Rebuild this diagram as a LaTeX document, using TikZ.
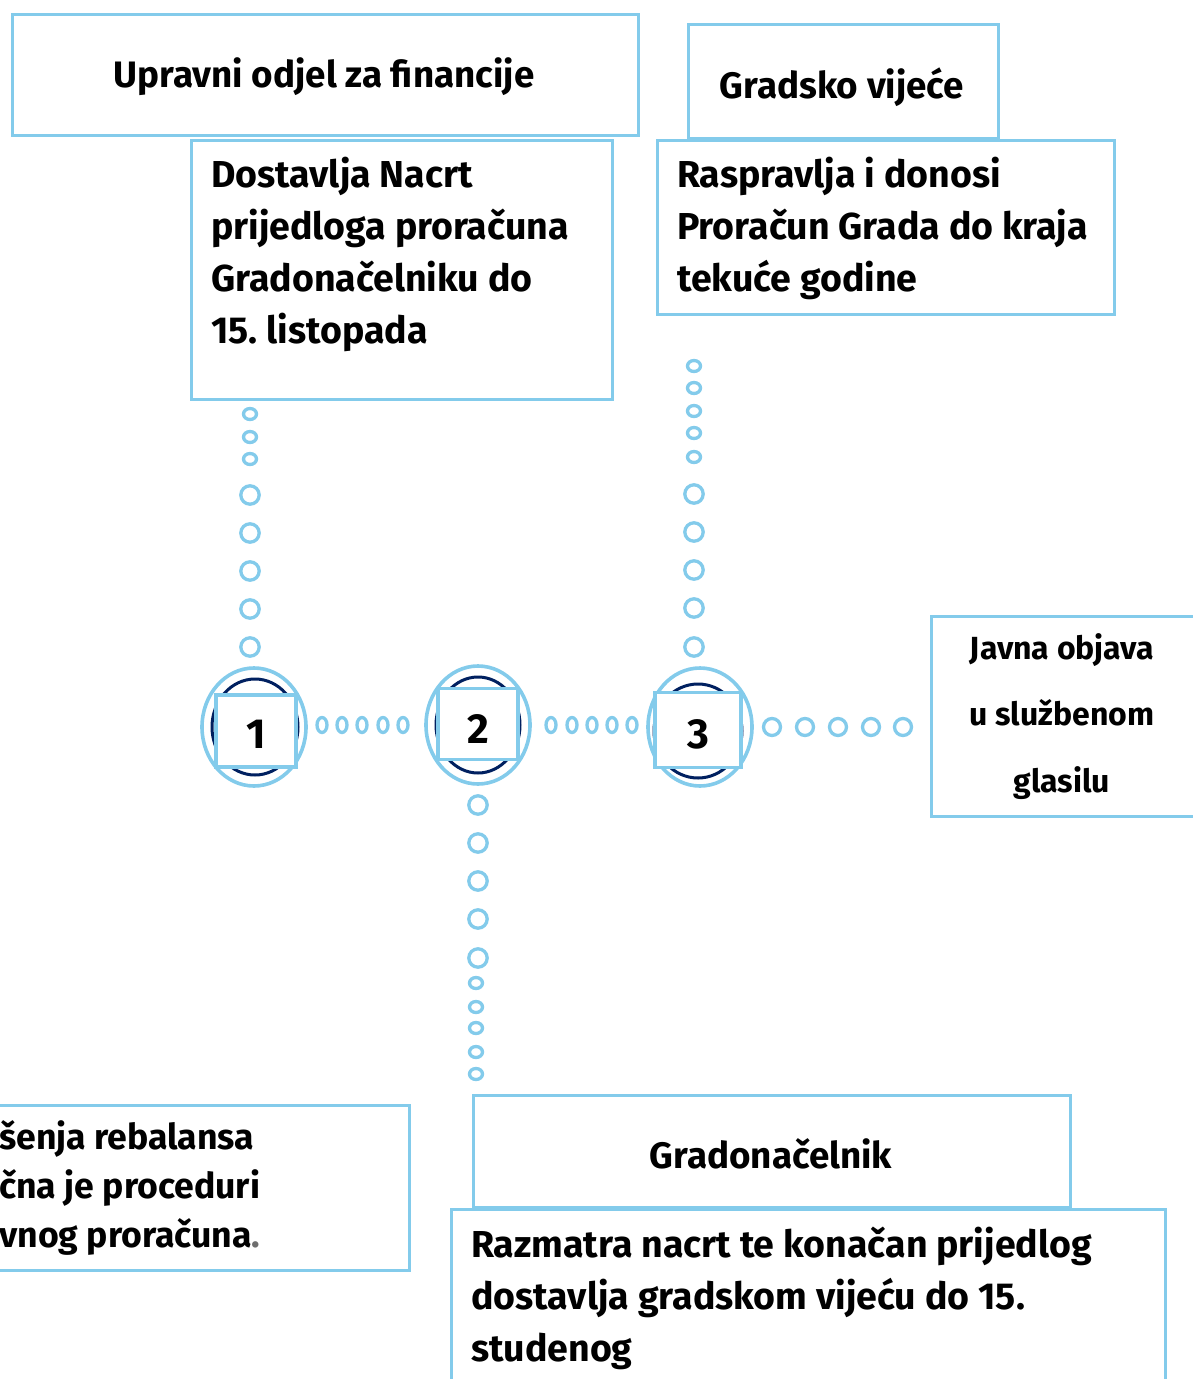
\documentclass[tikz,border=0pt]{standalone}
\usepackage{fontspec}
\setmainfont{Fira Sans}
\usetikzlibrary{calc}
\definecolor{sky}{RGB}{131,203,235}
\definecolor{navy}{RGB}{0,32,96}
\definecolor{dotgray}{RGB}{110,110,110}
\tikzset{
  box/.style={draw=sky,line width=3pt,fill=white,rectangle,inner sep=0pt,anchor=north west},
  txt/.style={inner sep=0pt,font=\fontsize{37.5}{52}\selectfont\bfseries,align=left,anchor=base west},
  ctxt/.style={inner sep=0pt,font=\fontsize{36.8}{52}\selectfont\bfseries,anchor=base},
  ring/.style={draw=sky,line width=3.3pt,fill=white},
  outerell/.style={draw=sky,line width=3.6pt,fill=white},
  innerell/.style={draw=navy,line width=3pt},
  numbox/.style={draw=sky,line width=3.4pt,fill=white,rectangle,inner sep=0pt,font=\fontsize{42}{50}\selectfont\bfseries}
}
\frenchspacing
\begin{document}
\begin{tikzpicture}[x=1pt,y=-1pt]
\useasboundingbox (0,0) rectangle (1192,1379);
% boxes
\node[box,minimum width=626pt,minimum height=121pt] (b1) at (11,13) {};
\node[box,minimum width=421pt,minimum height=259pt] (b2) at (190,139) {};
\node[box,minimum width=310pt,minimum height=114pt] (b3) at (687,23) {};
\node[box,minimum width=457pt,minimum height=174pt] (b4) at (656,139) {};
\node[box,minimum width=280pt,minimum height=200pt] (b5) at (930,615) {};
\node[box,minimum width=420pt,minimum height=165pt] (b6) at (-12,1104) {};
\node[box,minimum width=597pt,minimum height=112pt] (b7) at (472,1094) {};
\node[box,minimum width=714pt,minimum height=190pt] (b8) at (450,1208) {};
% texts (base anchor = baseline of last line)
\node[ctxt] (t1) at (324,87) {Upravni odjel za financije};
\node[txt] (t2) at (211,343) {Dostavlja Nacrt\\prijedloga proračuna\\Gradonačelniku do\\15. listopada};
\node[ctxt] (t3) at (842,98) {Gradsko vijeće};
\node[txt] (t4) at (677,291) {Raspravlja i donosi\\Proračun Grada do kraja\\tekuće godine};
\node[inner sep=0pt,font=\fontsize{32}{66.5}\selectfont\bfseries,align=center,anchor=base] (t5) at (1062,792) {Javna objava\\u službenom\\glasilu};
\node[inner sep=0pt,font=\fontsize{35.6}{49}\selectfont\bfseries,align=left,anchor=base west] (t6) at (-1,1247) {šenja rebalansa\\čna je proceduri\\vnog proračuna{\color{dotgray}.}};
\node[ctxt] (t7) at (771,1168) {Gradonačelnik};
\node[txt] (t8) at (471,1361) {Razmatra nacrt te konačan prijedlog\\dostavlja gradskom vijeću do 15.\\studenog};
% step circles
\draw[outerell] (254,727) ellipse (52 and 59);
\draw[innerell] (255,727) ellipse (43 and 48);
\node[numbox,minimum width=80pt,minimum height=72pt] (n1) at (256,731) {\raisebox{-17pt}[0pt][0pt]{\makebox[0pt]{1}}};
\draw[outerell] (478,725) ellipse (52 and 59);
\draw[innerell] (478,725) ellipse (42 and 48);
\node[numbox,minimum width=80pt,minimum height=71pt] (n2) at (478,724) {\raisebox{-19pt}[0pt][0pt]{\makebox[0pt]{2}}};
\draw[outerell] (700,727) ellipse (52 and 59);
\draw[innerell] (698,731) ellipse (44 and 47);
\node[numbox,minimum width=86pt,minimum height=75pt] (n3) at (698,730) {\raisebox{-18.5pt}[0pt][0pt]{\makebox[0pt]{3}}};
% dotted connectors
\foreach \x in {322,342,362,383,403,551,572,592,612,632}
  \draw[ring] (\x,725) ellipse (5 and 7.5);
\foreach \x in {772,805,838,871,903}
  \draw[ring] (\x,727) circle (8.5);
\foreach \y in {414,437,459}
  \draw[ring] (250,\y) ellipse (6.5 and 5.5);
\foreach \y in {495,533,571,609,647}
  \draw[ring] (250,\y) circle (9.2);
\foreach \y in {366,388,411,433,457}
  \draw[ring] (694,\y) ellipse (6.5 and 5.5);
\foreach \y in {494,532,570,608,647}
  \draw[ring] (694,\y) circle (9.2);
\foreach \y in {805,843,881,919,958}
  \draw[ring] (478,\y) circle (9.2);
\foreach \y in {983,1007,1028,1052,1074}
  \draw[ring] (476,\y) ellipse (6.5 and 5.5);
\end{tikzpicture}
\end{document}
